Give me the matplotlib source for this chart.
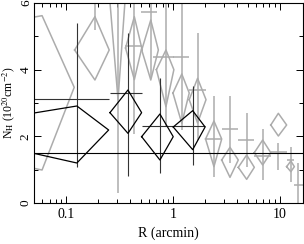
import matplotlib.pyplot as plt
import numpy as np
from matplotlib.ticker import MultipleLocator, FixedLocator, FixedFormatter

plt.rcParams['font.family'] = ['Liberation Serif', 'DejaVu Serif']
plt.rcParams['mathtext.fontset'] = 'stix'

# black annuli: crosses (projected) and diamonds (deprojected)
blk_r = [0.126, 0.379, 0.755, 1.53]
blk_rlo = [0.0053, 0.257, 0.509, 1.006]
blk_rhi = [0.25, 0.509, 1.006, 2.0]
blk_cross_n = [3.12, 3.29, 2.32, 2.30]
blk_cross_lo = [1.08, 0.80, 0.91, 1.13]
blk_cross_hi = [5.40, 5.09, 3.75, 3.51]
blk_dia_n = [2.19, 2.71, 1.99, 2.28]
blk_dia_lo = [1.20, 2.09, 1.29, 1.60]
blk_dia_hi = [2.91, 3.39, 2.67, 2.77]

# grey annuli, diamonds
gry_r = [0.0595, 0.186, 0.306, 0.435, 0.62, 0.86, 1.21, 1.70, 2.42, 3.42, 4.9, 6.92, 9.7, 12.7]
gry_rlo = [1e-5, 0.12, 0.253, 0.36, 0.51, 0.70, 1.0, 1.42, 2.02, 2.86, 4.09, 5.78, 8.24, 11.6]
gry_rhi = [0.119, 0.253, 0.36, 0.51, 0.73, 1.02, 1.42, 2.04, 2.86, 4.09, 5.78, 8.24, 11.6, 13.7]
gry_dia_n = [3.47, 4.59, 6.3, 4.65, 4.59, 4.0, 3.3, 3.1, 1.92, 1.29, 1.07, 1.51, 2.34, 1.09]
gry_dia_lo = [0.99, 3.69, 3.1, 3.70, 3.69, 2.89, 2.39, 2.40, 1.09, 0.77, 0.71, 1.14, 2.01, 0.94]
gry_dia_hi = [5.62, 5.59, 9.0, 5.59, 5.49, 4.59, 3.87, 3.74, 2.46, 1.67, 1.44, 1.89, 2.69, 1.26]

# grey annuli, crosses
gc_r = [0.186, 0.306, 0.435, 0.62, 0.86, 1.21, 1.70, 2.42, 3.42, 4.9, 6.92, 9.7, 12.7, 14.9]
gc_rlo = [0.12, 0.253, 0.355, 0.50, 0.65, 1.0, 1.42, 2.02, 2.86, 4.09, 5.78, 8.24, 11.6, 13.7]
gc_rhi = [0.253, 0.36, 0.51, 0.716, 1.02, 1.42, 2.04, 2.86, 4.09, 5.78, 8.24, 11.6, 13.7, 17.0]
gc_n = [6.8, 6.5, 4.71, 5.74, 4.39, 4.39, 3.39, 1.92, 2.21, 1.89, 1.42, 1.54, 1.29, 0.54]
gc_lo = [5.19, 0.29, 2.08, 3.74, 2.29, 2.20, 1.90, 0.79, 1.21, 1.07, 0.69, 0.99, 0.64, 0.0]
gc_hi = [8.5, 9.0, 7.5, 8.0, 7.5, 7.0, 5.11, 3.21, 3.21, 2.71, 2.21, 1.79, 1.69, 1.19]

n_gal = 1.5
GREY = '#acacac'


def diamonds(ax, r, rlo, rhi, n, nlo, nhi, **kw):
    for i in range(len(r)):
        ax.plot([rlo[i], r[i], rhi[i], r[i], rlo[i]],
                [n[i], nhi[i], n[i], nlo[i], n[i]], **kw)


def crosses(ax, r, rlo, rhi, n, nlo, nhi, color, lw):
    r, rlo, rhi = np.array(r), np.array(rlo), np.array(rhi)
    n, nlo, nhi = np.array(n), np.array(nlo), np.array(nhi)
    ax.errorbar(r, n, xerr=[r - rlo, rhi - r], yerr=[n - nlo, nhi - n],
                fmt='none', ecolor=color, elinewidth=lw, capsize=0)


fig = plt.figure(figsize=(3.04, 2.44), dpi=100)
ax = fig.add_axes([34 / 304, 41 / 244, 268.7 / 304, 200 / 244])

crosses(ax, gc_r, gc_rlo, gc_rhi, gc_n, gc_lo, gc_hi, GREY, 1.1)
diamonds(ax, gry_r, gry_rlo, gry_rhi, gry_dia_n, gry_dia_lo, gry_dia_hi, color=GREY, lw=1.1)
crosses(ax, blk_r, blk_rlo, blk_rhi, blk_cross_n, blk_cross_lo, blk_cross_hi, '#333333', 0.8)
diamonds(ax, blk_r, blk_rlo, blk_rhi, blk_dia_n, blk_dia_lo, blk_dia_hi, color='k', lw=0.9)
ax.axhline(n_gal, color='k', lw=0.8)

ax.set_xscale('log')
ax.set_xlim(0.05, 16.4)
ax.set_ylim(0, 6)
ax.xaxis.set_major_locator(FixedLocator([0.1, 1, 10]))
ax.xaxis.set_major_formatter(FixedFormatter(['0.1', '1', '10']))
ax.yaxis.set_major_locator(MultipleLocator(2))
ax.yaxis.set_minor_locator(MultipleLocator(1))
ax.tick_params(which='both', direction='in', top=True, right=True, width=0.7, labelsize=10)
ax.tick_params(axis='y', pad=1.5, labelsize=9.5)
ax.tick_params(which='major', length=5)
ax.tick_params(which='minor', length=3)
for lab in ax.get_yticklabels():
    lab.set_rotation(90)
    lab.set_va('center')
for sp in ax.spines.values():
    sp.set_linewidth(0.8)

ax.set_xlabel('R (arcmin)', fontsize=10, labelpad=4)
ax.set_ylabel(r'N$_{\rm H}$ (10$^{\rm 20}$cm$^{-2}$)', fontsize=8.5)
ax.yaxis.set_label_coords(-0.064, 0.5)

fig.savefig('out.png', dpi=100)
